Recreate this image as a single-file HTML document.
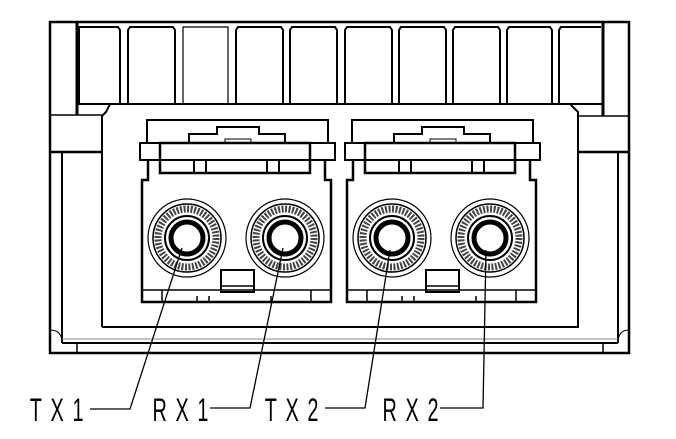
<!DOCTYPE html>
<html><head><style>html,body{margin:0;padding:0;background:#fff;}</style></head>
<body>
<svg width="676" height="434" viewBox="0 0 676 434" xmlns="http://www.w3.org/2000/svg">
<rect width="676" height="434" fill="#fff"/>
<defs>
<g id="conn" fill="none" stroke="#000">
  <path d="M352,143 V120 H533 V143" stroke-width="2"/>
  <path d="M394,143 V134 H422 V127 H464 V134 H490 V143" stroke-width="2"/>
  <rect x="430" y="139" width="26" height="4" stroke-width="1"/>
  <rect x="345" y="143" width="195" height="17" stroke-width="2"/>
  <rect x="365" y="143" width="150" height="30" stroke-width="2.5"/>
  <line x1="365" y1="160" x2="515" y2="160" stroke-width="2"/>
  <line x1="399" y1="160" x2="399" y2="173" stroke-width="2"/>
  <line x1="411" y1="160" x2="411" y2="173" stroke-width="2"/>
  <line x1="472" y1="160" x2="472" y2="173" stroke-width="2"/>
  <line x1="484" y1="160" x2="484" y2="173" stroke-width="2"/>
  <path d="M353,160 V180 H347 V302 H536 V180 H530 V160" stroke-width="2.5"/>
  <line x1="347" y1="290" x2="536" y2="290" stroke-width="1.5"/>
  <line x1="367" y1="290" x2="367" y2="302" stroke-width="1.5"/>
  <line x1="516" y1="290" x2="516" y2="302" stroke-width="1.5"/>
  <rect x="426" y="270" width="33" height="22" stroke-width="2"/>
  <line x1="426" y1="286" x2="459" y2="286" stroke-width="1.5"/>
  <line x1="402" y1="296" x2="402" y2="302" stroke-width="1.5"/>
  <line x1="414" y1="296" x2="414" y2="302" stroke-width="1.5"/>
  <line x1="476" y1="296" x2="476" y2="302" stroke-width="1.5"/>
  <g id="fer">
    <circle cx="392" cy="238" r="39" stroke-width="1.2"/>
    <circle cx="392" cy="238" r="34" stroke-width="1.5"/>
    <circle cx="392" cy="238" r="29" stroke="#444" stroke-width="7" stroke-dasharray="2 1.5"/>
    <circle cx="392" cy="238" r="22" stroke-width="2"/>
    <circle cx="392" cy="238" r="16" stroke-width="5"/>
  </g>
  <use href="#fer" x="98"/>
</g>
</defs>
<g fill="none" stroke="#000">
  <rect x="50" y="22" width="579" height="331" stroke-width="2.5"/>
  <line x1="77" y1="22" x2="77" y2="115" stroke-width="3"/>
  <line x1="603" y1="22" x2="603" y2="116" stroke-width="3"/>
  <line x1="77" y1="104" x2="603" y2="104" stroke-width="2"/>
  <g stroke-width="2">
    <path d="M79,104 V27 H118 L120,30 V104"/>
    <path d="M128,104 V30 L130,27 H173 L175,30 V104"/>
    <path d="M183,104 V27 H228 V104" stroke-width="1.2"/>
    <path d="M236,104 V30 L238,27 H281 L283,30 V104"/>
    <path d="M290,104 V30 L292,27 H335 L337,30 V104"/>
    <path d="M345,104 V30 L347,27 H390 L392,30 V104"/>
    <path d="M399,104 V30 L401,27 H444 L446,30 V104"/>
    <path d="M453,104 V30 L455,27 H498 L500,30 V104"/>
    <path d="M507,104 V30 L509,27 H550 L552,30 V104"/>
    <path d="M559,104 V30 L561,27 H601"/>
  </g>
  <line x1="50" y1="115" x2="102" y2="115" stroke-width="1.5"/>
  <line x1="50" y1="152" x2="102" y2="152" stroke-width="2.5"/>
  <line x1="62" y1="152" x2="62" y2="343" stroke-width="2"/>
  <line x1="578" y1="116" x2="629" y2="116" stroke-width="1.5"/>
  <line x1="578" y1="152" x2="629" y2="152" stroke-width="2.5"/>
  <line x1="618" y1="152" x2="618" y2="343" stroke-width="2"/>
  <path d="M102,327 V116 L106,112 L110,104 M570,104 L574,108 L578,112 V327 H102" stroke-width="2"/>
  <line x1="62" y1="343" x2="618" y2="343" stroke-width="2"/>
  <line x1="62" y1="339" x2="618" y2="339" stroke-width="1" stroke="#888"/>
  <line x1="77" y1="343" x2="77" y2="353" stroke-width="1.5"/>
  <line x1="603" y1="343" x2="603" y2="353" stroke-width="1.5"/>
  <path d="M50,330 Q62,330 62,343" stroke-width="1"/>
  <path d="M629,330 Q618,330 618,343" stroke-width="1"/>
</g>
<use href="#conn"/>
<use href="#conn" x="-205"/>
<g fill="none" stroke="#000" stroke-width="1.3">
  <path d="M90,409 H130 L182,248"/>
  <path d="M210,408 H250 L283,248"/>
  <path d="M325,408 H365 L390,250"/>
  <path d="M440,408 H483 L486,250"/>
</g>
<g font-family="Liberation Sans, sans-serif" font-size="32" fill="#000" letter-spacing="14" transform="scale(0.62,1)">
  <text x="48" y="421">TX1</text>
  <text x="246" y="421">RX1</text>
  <text x="427" y="421">TX2</text>
  <text x="617" y="421">RX2</text>
</g>
</svg>
</body></html>
